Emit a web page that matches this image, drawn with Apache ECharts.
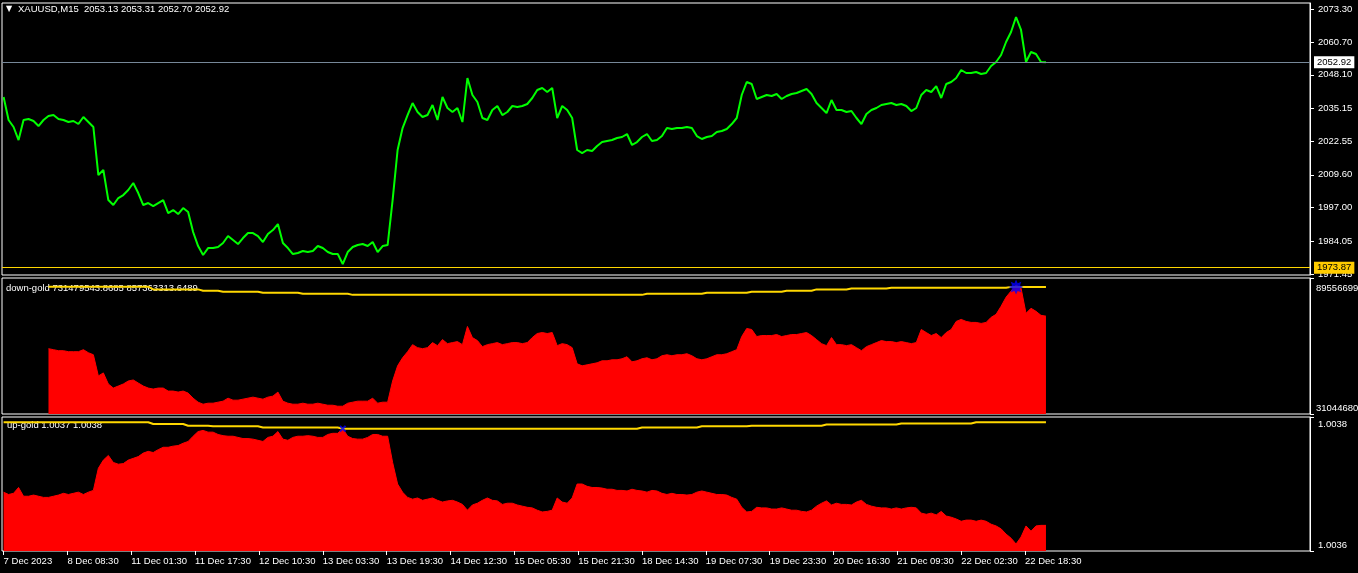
<!DOCTYPE html>
<html>
<head>
<meta charset="utf-8">
<script src="https://cdn.jsdelivr.net/npm/echarts@6/dist/echarts.min.js"></script>
<style>
html,body{margin:0;padding:0;background:#000;}
#c{width:1358px;height:573px;}
</style>
</head>
<body>
<div id="c"></div>
<script>
// ---------------- data ----------------
const BAR_STEP = 5; // each sample below = 5 M15 bars

const TIME_TICK_BARS = [0,64,128,192,256,320,384,448,512,576,640,704,768,832,896,960,1024];
const TIME_LABELS = ['7 Dec 2023','8 Dec 08:30','11 Dec 01:30','11 Dec 17:30','12 Dec 10:30','13 Dec 03:30',
  '13 Dec 19:30','14 Dec 12:30','15 Dec 05:30','15 Dec 21:30','18 Dec 14:30','19 Dec 07:30','19 Dec 23:30',
  '20 Dec 16:30','21 Dec 09:30','22 Dec 02:30','22 Dec 18:30'];

const PRICE_TICK_LABELS = ['2073.30','2060.70','2048.10','2035.15','2022.55','2009.60','1997.00','1984.05','1971.45'];
const DOWN_TICK_VALUES = [895.566993, 310.446804];   // millions
const DOWN_TICK_LABELS = ['895566993', '310446804'];
const UP_TICK_VALUES = [1.003845, 1.003615];
const UP_TICK_LABELS = ['1.0038', '1.0036'];

const TITLE_MAIN = 'XAUUSD,M15  2053.13 2053.31 2052.70 2052.92';
const TITLE_DOWN = 'down-gold 731479543.8685 857363313.6489';
const TITLE_UP = 'up-gold 1.0037 1.0038';
const CURRENT_PRICE = 2052.92;
const LEVEL_PRICE = 1973.87;

const PRICE = [
2039.55,2030.70,2028.01,2023.00,2030.70,2031.09,2030.32,2028.39,2030.70,2032.24,
2032.62,2031.09,2030.70,2029.93,2030.32,2029.16,2031.85,2029.93,2028.01,2009.53,
2011.46,1999.91,1997.99,2000.68,2001.84,2003.76,2006.46,2002.61,1997.99,1998.76,
1997.61,1998.76,1999.91,1994.91,1996.07,1994.53,1996.84,1995.30,1987.60,1982.21,
1978.75,1981.44,1981.44,1981.83,1983.37,1986.06,1984.52,1982.98,1985.29,1987.21,
1987.21,1986.06,1983.75,1986.83,1988.37,1990.68,1983.37,1981.44,1979.13,1979.52,
1980.29,1979.90,1980.29,1982.21,1981.44,1979.90,1979.13,1979.13,1975.28,1979.90,
1981.83,1982.60,1982.98,1982.21,1983.75,1979.90,1982.21,1982.60,1999.91,2019.16,
2027.62,2032.62,2037.24,2033.78,2031.85,2032.62,2036.47,2030.70,2039.55,2035.32,
2033.78,2035.32,2029.93,2046.86,2040.32,2037.63,2031.47,2030.70,2034.55,2036.09,
2032.62,2033.78,2036.09,2035.70,2036.09,2036.86,2039.17,2042.25,2043.01,2041.48,
2043.01,2031.47,2036.09,2034.55,2031.47,2019.16,2018.00,2019.16,2018.77,2020.69,
2022.23,2022.62,2023.00,2023.77,2024.16,2025.31,2021.08,2022.23,2024.16,2025.31,
2022.62,2023.00,2024.54,2027.62,2027.24,2027.62,2027.62,2028.01,2027.62,2024.54,
2023.39,2024.16,2024.54,2026.08,2026.47,2027.24,2029.16,2031.47,2040.32,2045.32,
2044.55,2038.78,2039.55,2040.32,2039.94,2040.71,2038.78,2039.94,2040.71,2041.09,
2041.86,2042.63,2040.71,2037.24,2035.32,2033.39,2038.40,2034.55,2034.55,2033.78,
2034.16,2031.47,2029.16,2033.01,2034.55,2035.32,2036.47,2036.86,2037.24,2036.47,
2036.86,2036.09,2034.16,2035.32,2040.32,2042.25,2041.48,2043.78,2039.17,2044.55,
2045.32,2046.86,2049.94,2048.79,2048.79,2049.17,2048.40,2048.79,2051.48,2053.02,
2055.71,2060.72,2064.57,2070.34,2065.34,2053.02,2056.87,2056.10,2053.02,2052.92
];

// down-gold histogram, millions
const DOWN_GOLD = [
null,null,null,null,null,null,null,null,null,591.5,
587.2,582.8,582.8,578.5,578.5,578.5,587.2,574.1,565.4,474.2,
487.3,439.5,422.1,430.8,439.5,452.5,456.8,443.8,430.8,422.1,
417.7,422.1,422.1,409.1,409.1,404.7,409.1,400.4,378.6,361.3,
352.6,356.9,356.9,361.3,365.6,378.6,370.0,370.0,374.3,378.6,
383.0,378.6,374.3,383.0,387.3,404.7,365.6,356.9,352.6,352.6,
356.9,352.6,352.6,356.9,352.6,348.2,348.2,343.9,343.9,356.9,
361.3,365.6,365.6,365.6,378.6,356.9,361.3,361.3,452.5,517.7,
552.4,578.5,608.9,595.9,591.5,595.9,617.6,604.5,630.6,613.2,
617.6,621.9,608.9,687.1,639.3,626.3,600.2,608.9,613.2,617.6,
608.9,613.2,617.6,617.6,613.2,617.6,639.3,656.7,661.0,656.7,
661.0,604.5,613.2,608.9,595.9,526.4,517.7,522.0,526.4,530.7,
539.4,539.4,543.7,543.7,548.1,556.8,535.0,539.4,548.1,552.4,
543.7,548.1,561.1,565.4,561.1,565.4,565.4,569.8,561.1,548.1,
543.7,548.1,556.8,565.4,565.4,569.8,578.5,587.2,643.6,678.4,
674.0,643.6,648.0,648.0,648.0,652.3,643.6,648.0,652.3,652.3,
656.7,661.0,648.0,630.6,613.2,604.5,639.3,608.9,608.9,604.5,
608.9,595.9,582.8,600.2,608.9,617.6,626.3,621.9,621.9,617.6,
621.9,617.6,613.2,617.6,674.0,661.0,648.0,656.7,639.3,661.0,
674.0,708.8,717.5,708.8,704.5,704.5,700.1,704.5,726.2,739.2,
774.0,813.1,839.1,865.2,852.2,743.6,765.3,752.2,734.9,731.48
];

const DOWN_SIGNAL = [
null,null,null,null,null,null,null,null,null,858.0,
858.0,858.0,858.0,858.0,858.0,858.0,858.0,858.0,858.0,858.0,
858.0,858.0,858.0,858.0,858.0,858.0,858.0,858.0,858.0,858.0,
846.5,846.5,846.5,846.5,846.5,846.5,846.5,846.5,846.5,846.5,
840.4,840.4,840.4,840.4,836.1,836.1,836.1,836.1,836.1,836.1,
836.1,836.1,831.7,831.7,831.7,831.7,831.7,831.7,831.7,831.7,
827.4,827.4,827.4,827.4,827.4,827.4,827.4,827.4,827.4,827.4,
823.0,823.0,823.0,823.0,823.0,823.0,823.0,823.0,823.0,823.0,
823.0,823.0,823.0,823.0,823.0,823.0,823.0,823.0,823.0,823.0,
823.0,823.0,823.0,823.0,823.0,823.0,823.0,823.0,823.0,823.0,
823.0,823.0,823.0,823.0,823.0,823.0,823.0,823.0,823.0,823.0,
823.0,823.0,823.0,823.0,823.0,823.0,823.0,823.0,823.0,823.0,
823.0,823.0,823.0,823.0,823.0,823.0,823.0,823.0,823.0,827.4,
827.4,827.4,827.4,827.4,827.4,827.4,827.4,827.4,827.4,827.4,
827.4,831.7,831.7,831.7,831.7,831.7,831.7,831.7,831.7,831.7,
836.1,836.1,836.1,836.1,836.1,836.1,836.1,840.4,840.4,840.4,
840.4,840.4,840.4,846.5,846.5,846.5,846.5,846.5,846.5,846.5,
850.8,850.8,850.8,850.8,850.8,850.8,850.8,850.8,853.5,853.5,
853.5,853.5,853.5,853.5,853.5,853.5,853.5,853.5,853.5,853.5,
853.5,853.5,853.5,853.5,853.5,853.5,853.5,853.5,853.5,853.5,
853.5,853.5,857.36,857.36,857.36,857.36,857.36,857.36,857.36,857.36
];

const UP_GOLD = [
1.003716,1.003712,1.003714,1.003724,1.003709,1.003709,1.003711,1.003709,1.003707,1.003707,
1.003709,1.003711,1.003714,1.003712,1.003714,1.003716,1.003712,1.003716,1.003719,1.003757,
1.003771,1.003779,1.003767,1.003764,1.003765,1.003771,1.003774,1.003777,1.003783,1.003786,
1.003784,1.003789,1.003793,1.003793,1.003795,1.003796,1.003800,1.003803,1.003812,1.003820,
1.003822,1.003819,1.003819,1.003815,1.003813,1.003812,1.003812,1.003810,1.003808,1.003808,
1.003807,1.003805,1.003803,1.003810,1.003812,1.003820,1.003807,1.003805,1.003810,1.003812,
1.003812,1.003813,1.003812,1.003810,1.003810,1.003815,1.003817,1.003817,1.003825,1.003812,
1.003808,1.003807,1.003807,1.003810,1.003815,1.003815,1.003812,1.003812,1.003767,1.003730,
1.003716,1.003707,1.003704,1.003706,1.003702,1.003704,1.003706,1.003702,1.003699,1.003701,
1.003702,1.003699,1.003695,1.003685,1.003694,1.003697,1.003702,1.003706,1.003702,1.003701,
1.003695,1.003697,1.003697,1.003694,1.003692,1.003690,1.003689,1.003685,1.003682,1.003683,
1.003685,1.003706,1.003699,1.003697,1.003706,1.003730,1.003730,1.003726,1.003724,1.003724,
1.003723,1.003721,1.003721,1.003719,1.003719,1.003718,1.003721,1.003719,1.003718,1.003716,
1.003719,1.003718,1.003714,1.003712,1.003714,1.003712,1.003712,1.003711,1.003712,1.003716,
1.003718,1.003716,1.003714,1.003712,1.003712,1.003711,1.003707,1.003704,1.003690,1.003682,
1.003683,1.003690,1.003689,1.003689,1.003687,1.003687,1.003689,1.003687,1.003685,1.003685,
1.003683,1.003682,1.003685,1.003692,1.003697,1.003701,1.003694,1.003697,1.003695,1.003695,
1.003694,1.003699,1.003702,1.003695,1.003692,1.003690,1.003689,1.003689,1.003687,1.003689,
1.003687,1.003689,1.003690,1.003689,1.003680,1.003678,1.003680,1.003677,1.003683,1.003675,
1.003673,1.003670,1.003666,1.003668,1.003668,1.003666,1.003668,1.003666,1.003661,1.003658,
1.003653,1.003644,1.003637,1.003627,1.003639,1.003658,1.003649,1.003658,1.003659,1.003659
];

const UP_SIGNAL = [
1.003836,1.003836,1.003836,1.003836,1.003836,1.003836,1.003836,1.003836,1.003836,1.003836,
1.003836,1.003836,1.003836,1.003836,1.003836,1.003836,1.003836,1.003836,1.003836,1.003836,
1.003836,1.003836,1.003836,1.003836,1.003836,1.003836,1.003836,1.003836,1.003836,1.003836,
1.003833,1.003833,1.003833,1.003833,1.003833,1.003833,1.003833,1.003830,1.003830,1.003830,
1.003830,1.003830,1.003829,1.003829,1.003829,1.003829,1.003829,1.003829,1.003829,1.003829,
1.003829,1.003829,1.003827,1.003827,1.003827,1.003827,1.003827,1.003827,1.003827,1.003827,
1.003827,1.003827,1.003827,1.003827,1.003827,1.003827,1.003827,1.003827,1.003825,1.003825,
1.003825,1.003825,1.003825,1.003825,1.003825,1.003825,1.003825,1.003825,1.003825,1.003825,
1.003825,1.003825,1.003825,1.003825,1.003825,1.003825,1.003825,1.003825,1.003825,1.003825,
1.003825,1.003825,1.003825,1.003825,1.003825,1.003825,1.003825,1.003825,1.003825,1.003825,
1.003825,1.003825,1.003825,1.003825,1.003825,1.003825,1.003825,1.003825,1.003825,1.003825,
1.003825,1.003825,1.003825,1.003825,1.003825,1.003825,1.003825,1.003825,1.003825,1.003825,
1.003825,1.003825,1.003825,1.003825,1.003825,1.003825,1.003825,1.003825,1.003827,1.003827,
1.003827,1.003827,1.003827,1.003827,1.003827,1.003827,1.003827,1.003827,1.003827,1.003827,
1.003829,1.003829,1.003829,1.003829,1.003829,1.003829,1.003829,1.003829,1.003829,1.003829,
1.003830,1.003830,1.003830,1.003830,1.003830,1.003830,1.003830,1.003830,1.003830,1.003830,
1.003830,1.003830,1.003830,1.003830,1.003830,1.003832,1.003832,1.003832,1.003832,1.003832,
1.003832,1.003832,1.003832,1.003832,1.003832,1.003832,1.003832,1.003832,1.003832,1.003832,
1.003834,1.003834,1.003834,1.003834,1.003834,1.003834,1.003834,1.003834,1.003834,1.003834,
1.003834,1.003834,1.003834,1.003834,1.003834,1.003836,1.003836,1.003836,1.003836,1.003836,
1.003836,1.003836,1.003836,1.003836,1.003836,1.003836,1.003836,1.003836,1.003836,1.003836
];

// arrow signals: [sample index, value]
const DOWN_ARROWS = [[203, 856.8]];
const UP_ARROWS = [[68, 1.003825]];

// ---------------- chart ----------------
const FONT = 'Liberation Sans';
const FS = 9.5;
const WHITE = '#ffffff';
const GREEN = '#00ff00';
const RED = '#ff0000';
const GOLD = '#ffd700';
const BLUE = '#0000ff';

const toXY = arr => arr.map((v, i) => [i * BAR_STEP, v]);
const arrowsXY = arr => arr.map(p => [p[0] * BAR_STEP, p[1]]);
function pick(values, labels, v) {
  let best = 0;
  for (let i = 1; i < values.length; i++) if (Math.abs(values[i] - v) < Math.abs(values[best] - v)) best = i;
  return labels[best];
}
const PRICE_TICKS = PRICE_TICK_LABELS.map(Number);

const X_MIN = -1.6, X_MAX = 1309.7;
const gridBase = { left: 2, width: 1308, show: true, borderColor: WHITE, borderWidth: 1,
  backgroundColor: 'transparent', containLabel: false, outerBoundsMode: 'none' };

const xHidden = idx => ({ type: 'value', gridIndex: idx, min: X_MIN, max: X_MAX, show: false,
  axisLine: { onZero: false }, splitLine: { show: false } });

const STAR = 'path://M10,5 L7.59,6.07 L8.54,8.54 L6.07,7.59 L5,10 L3.93,7.59 L1.46,8.54 L2.41,6.07 L0,5 L2.41,3.93 L1.46,1.46 L3.93,2.41 L5,0 L6.07,2.41 L8.54,1.46 L7.59,3.93 Z';
const CROSS = 'path://M2,0 L5,3 L8,0 L10,2 L7,5 L10,8 L8,10 L5,7 L2,10 L0,8 L3,5 L0,2 Z';

const txt = { color: WHITE, fontSize: FS, fontFamily: FONT, fontWeight: 'normal', lineHeight: 11 };

const option = {
  backgroundColor: '#000000',
  animation: false,
  textStyle: { fontFamily: FONT },
  title: [
    { text: '▼', left: 6, top: 4, padding: 0, z: 0, textStyle: { color: WHITE, fontSize: 8, fontFamily: 'DejaVu Sans', fontWeight: 'normal', lineHeight: 10 } },
    { text: TITLE_MAIN, left: 18, top: 4, padding: 0, z: 0, textStyle: txt },
    { text: TITLE_DOWN, left: 6, top: 282.5, padding: 0, z: 0, textStyle: txt },
    { text: TITLE_UP, left: 7, top: 420, padding: 0, z: 0, textStyle: txt }
  ],
  grid: [
    Object.assign({ top: 3, height: 272 }, gridBase),
    Object.assign({ top: 278, height: 136 }, gridBase),
    Object.assign({ top: 417, height: 134 }, gridBase)
  ],
  xAxis: [
    xHidden(0),
    xHidden(1),
    {
      type: 'value', gridIndex: 2, min: X_MIN, max: X_MAX, position: 'bottom',
      axisLine: { show: false, onZero: false },
      splitLine: { show: false },
      axisTick: { show: true, customValues: TIME_TICK_BARS, length: 4, lineStyle: { color: WHITE } },
      axisLabel: {
        customValues: TIME_TICK_BARS, align: 'left', margin: 5, color: WHITE, fontSize: FS, fontFamily: FONT,
        formatter: v => pick(TIME_TICK_BARS, TIME_LABELS, v)
      }
    }
  ],
  yAxis: [
    {
      type: 'value', gridIndex: 0, position: 'right', min: 1971.07, max: 2075.72, scale: true,
      axisLine: { show: true, onZero: false, lineStyle: { color: WHITE } },
      splitLine: { show: false },
      axisTick: { show: true, customValues: PRICE_TICKS, length: 4, lineStyle: { color: WHITE } },
      axisLabel: { customValues: PRICE_TICKS, margin: 8, color: WHITE, fontSize: FS, fontFamily: FONT,
        formatter: v => pick(PRICE_TICKS, PRICE_TICK_LABELS, v) }
    },
    {
      type: 'value', gridIndex: 1, position: 'right', min: DOWN_TICK_VALUES[1], max: DOWN_TICK_VALUES[0], scale: true,
      axisLine: { show: true, onZero: false, lineStyle: { color: WHITE } },
      splitLine: { show: false },
      axisTick: { show: true, customValues: DOWN_TICK_VALUES, length: 4, lineStyle: { color: WHITE } },
      axisLabel: { customValues: DOWN_TICK_VALUES, margin: 6, color: WHITE, fontSize: FS, fontFamily: FONT,
        formatter: v => {
          const s = pick(DOWN_TICK_VALUES, DOWN_TICK_LABELS, v);
          return v > (DOWN_TICK_VALUES[0] + DOWN_TICK_VALUES[1]) / 2 ? '{t|' + s + '}' : '{b|' + s + '}';
        },
        rich: {
          t: { padding: [21, 0, 0, 0], color: WHITE, fontSize: FS, fontFamily: FONT },
          b: { padding: [0, 0, 12, 0], color: WHITE, fontSize: FS, fontFamily: FONT }
        }
      }
    },
    {
      type: 'value', gridIndex: 2, position: 'right', min: UP_TICK_VALUES[1], max: UP_TICK_VALUES[0], scale: true,
      axisLine: { show: true, onZero: false, lineStyle: { color: WHITE } },
      splitLine: { show: false },
      axisTick: { show: true, customValues: UP_TICK_VALUES, length: 4, lineStyle: { color: WHITE } },
      axisLabel: { customValues: UP_TICK_VALUES, margin: 8, color: WHITE, fontSize: FS, fontFamily: FONT,
        formatter: v => {
          const s = pick(UP_TICK_VALUES, UP_TICK_LABELS, v);
          return v > (UP_TICK_VALUES[0] + UP_TICK_VALUES[1]) / 2 ? '{t|' + s + '}' : '{b|' + s + '}';
        },
        rich: {
          t: { padding: [14, 0, 0, 0], color: WHITE, fontSize: FS, fontFamily: FONT },
          b: { padding: [0, 0, 11, 0], color: WHITE, fontSize: FS, fontFamily: FONT }
        }
      }
    }
  ],
  series: [
    {
      name: 'XAUUSD', type: 'line', xAxisIndex: 0, yAxisIndex: 0, data: toXY(PRICE),
      showSymbol: false, symbol: 'none', lineStyle: { color: GREEN, width: 2 }, z: 3,
      markLine: {
        symbol: 'none', silent: true, animation: false,
        data: [
          { yAxis: CURRENT_PRICE, lineStyle: { color: '#778899', width: 1, type: 'solid' },
            label: { show: true, position: 'end', distance: 4, formatter: CURRENT_PRICE.toFixed(2),
              backgroundColor: '#ffffff', color: '#000000', padding: [1, 3, 1, 3], fontSize: FS, fontFamily: FONT } },
          { yAxis: LEVEL_PRICE, lineStyle: { color: GOLD, width: 1, type: 'solid' },
            label: { show: true, position: 'end', distance: 4, formatter: LEVEL_PRICE.toFixed(2),
              backgroundColor: '#ffcc00', color: '#000000', padding: [1, 3, 1, 3], fontSize: FS, fontFamily: FONT } }
        ]
      }
    },
    {
      name: 'down-gold', type: 'line', xAxisIndex: 1, yAxisIndex: 1, data: toXY(DOWN_GOLD),
      showSymbol: false, symbol: 'none', lineStyle: { color: RED, width: 1 },
      areaStyle: { color: RED, opacity: 1, origin: 'start' }, z: 2
    },
    {
      name: 'down-signal', type: 'line', xAxisIndex: 1, yAxisIndex: 1, data: toXY(DOWN_SIGNAL),
      showSymbol: false, symbol: 'none', lineStyle: { color: GOLD, width: 2 }, z: 3
    },
    {
      name: 'down-arrow', type: 'scatter', xAxisIndex: 1, yAxisIndex: 1, data: arrowsXY(DOWN_ARROWS),
      symbol: STAR, symbolSize: 15, itemStyle: { color: BLUE }, z: 5
    },
    {
      name: 'up-gold', type: 'line', xAxisIndex: 2, yAxisIndex: 2, data: toXY(UP_GOLD),
      showSymbol: false, symbol: 'none', lineStyle: { color: RED, width: 1 },
      areaStyle: { color: RED, opacity: 1, origin: 'start' }, z: 2
    },
    {
      name: 'up-signal', type: 'line', xAxisIndex: 2, yAxisIndex: 2, data: toXY(UP_SIGNAL),
      showSymbol: false, symbol: 'none', lineStyle: { color: GOLD, width: 2 }, z: 3
    },
    {
      name: 'up-arrow', type: 'scatter', xAxisIndex: 2, yAxisIndex: 2, data: arrowsXY(UP_ARROWS),
      symbol: CROSS, symbolSize: 7, itemStyle: { color: BLUE }, z: 5
    }
  ]
};

const chart = echarts.init(document.getElementById('c'), null, { renderer: 'canvas' });
chart.setOption(option);
</script>
</body>
</html>
